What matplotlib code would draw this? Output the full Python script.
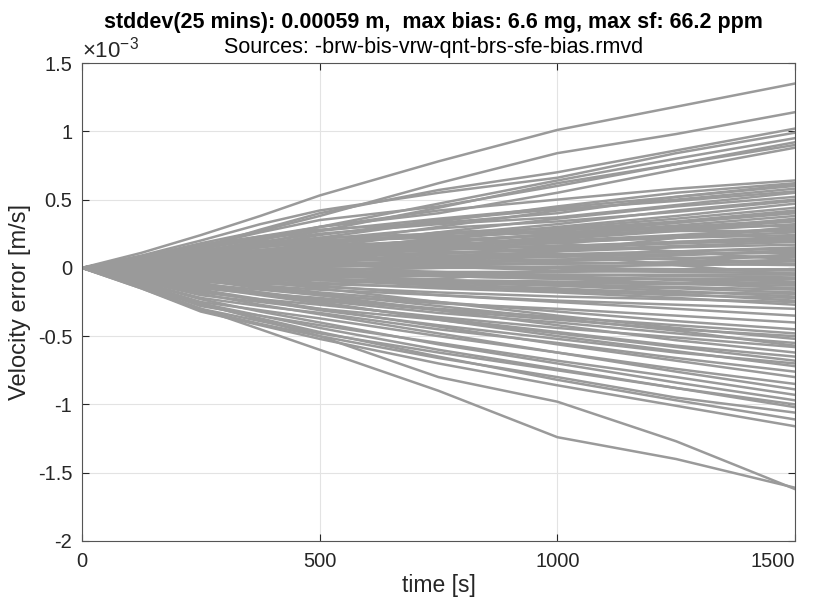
import numpy as np
import matplotlib.pyplot as plt
from matplotlib.ticker import FuncFormatter

plt.rcParams['font.family'] = ['Liberation Sans', 'DejaVu Sans']
plt.rcParams['axes.unicode_minus'] = False
plt.rcParams['mathtext.fontset'] = 'custom'
plt.rcParams['mathtext.rm'] = 'Liberation Sans'

# time knots [s]; velocity error values are in units of 1e-3 m/s
time_s = [0, 125, 250, 375, 500, 750, 1000, 1250, 1500]

upper_outliers = [
    [0, 0.11, 0.24, 0.38, 0.53, 0.78, 1.01, 1.18, 1.35],
    [0, 0.08, 0.18, 0.27, 0.38, 0.62, 0.84, 0.98, 1.14],
    [0, 0.07, 0.15, 0.28, 0.40, 0.57, 0.70, 0.86, 1.02],
    [0, 0.09, 0.20, 0.32, 0.42, 0.55, 0.66, 0.84, 0.99],
    [0, 0.05, 0.12, 0.20, 0.30, 0.47, 0.64, 0.80, 0.95],
    [0, 0.08, 0.16, 0.26, 0.35, 0.45, 0.60, 0.76, 0.92],
    [0, 0.04, 0.10, 0.18, 0.27, 0.44, 0.62, 0.76, 0.90],
    [0, 0.07, 0.14, 0.22, 0.30, 0.40, 0.55, 0.72, 0.88],
]

upper_band = [
    [0, 0.07, 0.15, 0.23, 0.30, 0.42, 0.50, 0.58, 0.64],
    [0, 0.05, 0.10, 0.16, 0.22, 0.34, 0.45, 0.55, 0.62],
    [0, 0.08, 0.17, 0.23, 0.28, 0.33, 0.40, 0.52, 0.60],
    [0, 0.03, 0.08, 0.13, 0.18, 0.30, 0.42, 0.50, 0.58],
    [0, 0.06, 0.12, 0.19, 0.25, 0.32, 0.37, 0.46, 0.55],
    [0, 0.03, 0.06, 0.10, 0.15, 0.26, 0.36, 0.45, 0.52],
    [0, 0.05, 0.11, 0.16, 0.20, 0.24, 0.32, 0.42, 0.50],
    [0, 0.02, 0.04, 0.08, 0.12, 0.22, 0.30, 0.38, 0.47],
    [0, 0.04, 0.09, 0.13, 0.17, 0.26, 0.29, 0.36, 0.44],
    [0, 0.06, 0.13, 0.18, 0.22, 0.25, 0.27, 0.33, 0.41],
    [0, 0.02, 0.05, 0.07, 0.10, 0.18, 0.25, 0.31, 0.38],
    [0, 0.03, 0.07, 0.12, 0.16, 0.20, 0.24, 0.30, 0.35],
    [0, 0.01, 0.02, 0.05, 0.08, 0.15, 0.21, 0.27, 0.32],
    [0, 0.05, 0.10, 0.12, 0.14, 0.17, 0.20, 0.24, 0.29],
    [0, 0.03, 0.06, 0.09, 0.12, 0.18, 0.19, 0.22, 0.26],
    [0, 0.01, 0.03, 0.04, 0.05, 0.10, 0.15, 0.19, 0.23],
    [0, 0.06, 0.14, 0.21, 0.27, 0.36, 0.44, 0.52, 0.61],
    [0, 0.04, 0.11, 0.17, 0.24, 0.35, 0.43, 0.49, 0.56],
    [0, 0.07, 0.12, 0.17, 0.21, 0.29, 0.34, 0.41, 0.49],
    [0, 0.02, 0.07, 0.11, 0.14, 0.21, 0.28, 0.34, 0.42],
    [0, 0.05, 0.08, 0.10, 0.13, 0.16, 0.23, 0.28, 0.34],
    [0, 0.04, 0.09, 0.15, 0.19, 0.23, 0.26, 0.29, 0.31],
]

core_band = [
    [0, 0.03, 0.07, 0.10, 0.13, 0.19, 0.25, 0.33, 0.40],
    [0, 0.02, 0.05, 0.09, 0.12, 0.16, 0.22, 0.28, 0.36],
    [0, 0.04, 0.07, 0.08, 0.10, 0.15, 0.18, 0.23, 0.28],
    [0, 0.01, 0.03, 0.06, 0.09, 0.13, 0.16, 0.19, 0.21],
    [0, 0.02, 0.03, 0.05, 0.07, 0.11, 0.13, 0.16, 0.19],
    [0, 0.00, 0.02, 0.03, 0.05, 0.07, 0.09, 0.12, 0.15],
    [0, 0.03, 0.05, 0.06, 0.06, 0.08, 0.09, 0.10, 0.12],
    [0, -0.01, 0.00, 0.02, 0.03, 0.04, 0.05, 0.07, 0.09],
    [0, 0.02, 0.02, 0.01, 0.01, 0.02, 0.03, 0.04, 0.06],
    [0, -0.02, -0.02, -0.01, -0.01, 0.00, 0.01, 0.02, 0.03],
    [0, 0.01, 0.00, -0.02, -0.03, -0.03, -0.03, -0.02, -0.01],
    [0, -0.01, -0.03, -0.04, -0.04, -0.04, -0.05, -0.05, -0.05],
    [0, 0.00, -0.02, -0.03, -0.05, -0.06, -0.08, -0.08, -0.08],
    [0, -0.03, -0.04, -0.05, -0.06, -0.09, -0.10, -0.11, -0.11],
    [0, -0.01, -0.04, -0.07, -0.09, -0.11, -0.13, -0.15, -0.18],
    [0, -0.02, -0.05, -0.08, -0.11, -0.15, -0.18, -0.22, -0.27],
    [0, 0.05, 0.09, 0.12, 0.15, 0.20, 0.24, 0.27, 0.27],
    [0, 0.04, 0.06, 0.07, 0.09, 0.11, 0.14, 0.18, 0.22],
]

mid_band = [
    [0, 0.04, 0.08, 0.11, 0.13, 0.15, 0.16, 0.18, 0.20],
    [0, 0.00, 0.01, 0.02, 0.04, 0.08, 0.12, 0.15, 0.17],
    [0, 0.03, 0.05, 0.08, 0.10, 0.09, 0.10, 0.12, 0.14],
    [0, -0.01, -0.02, 0.00, 0.02, 0.06, 0.08, 0.10, 0.11],
    [0, 0.02, 0.04, 0.05, 0.06, 0.05, 0.06, 0.07, 0.08],
    [0, 0.00, 0.00, 0.01, 0.01, 0.03, 0.03, 0.04, 0.05],
    [0, 0.03, 0.06, 0.07, 0.08, 0.06, 0.04, 0.03, 0.02],
    [0, -0.01, -0.03, -0.03, -0.02, 0.00, 0.00, -0.01, -0.01],
    [0, 0.01, 0.02, 0.03, 0.03, 0.01, -0.02, -0.03, -0.04],
    [0, -0.02, -0.05, -0.06, -0.06, -0.05, -0.05, -0.06, -0.07],
    [0, 0.00, 0.01, -0.01, -0.02, -0.04, -0.07, -0.08, -0.10],
    [0, -0.02, -0.04, -0.06, -0.08, -0.10, -0.11, -0.12, -0.13],
    [0, 0.00, -0.01, -0.03, -0.05, -0.09, -0.12, -0.14, -0.16],
    [0, -0.03, -0.07, -0.10, -0.12, -0.14, -0.16, -0.18, -0.19],
    [0, -0.01, -0.03, -0.06, -0.09, -0.13, -0.17, -0.20, -0.22],
    [0, -0.04, -0.08, -0.11, -0.14, -0.18, -0.21, -0.23, -0.25],
    [0, 0.05, 0.12, 0.16, 0.18, 0.16, 0.10, 0.02, -0.05],
    [0, -0.03, -0.06, -0.06, -0.04, 0.04, 0.12, 0.22, 0.30],
    [0, 0.04, 0.09, 0.15, 0.20, 0.22, 0.18, 0.12, 0.06],
    [0, -0.05, -0.10, -0.12, -0.12, -0.08, -0.02, 0.04, 0.10],
    [0, 0.02, 0.06, 0.09, 0.11, 0.14, 0.19, 0.22, 0.24],
    [0, -0.02, -0.03, -0.01, 0.01, 0.04, 0.06, 0.09, 0.13],
    [0, 0.03, 0.04, 0.03, 0.00, -0.03, -0.06, -0.09, -0.12],
    [0, -0.02, -0.06, -0.08, -0.09, -0.10, -0.13, -0.17, -0.21],
    [0, 0.01, 0.03, 0.04, 0.04, 0.02, 0.00, -0.02, -0.02],
    [0, -0.03, -0.05, -0.07, -0.07, -0.06, -0.08, -0.11, -0.15],
    [0, 0.06, 0.10, 0.13, 0.14, 0.12, 0.09, 0.06, 0.03],
    [0, -0.04, -0.07, -0.08, -0.08, -0.12, -0.15, -0.19, -0.24],
]

lower_band = [
    [0, -0.05, -0.10, -0.13, -0.16, -0.20, -0.24, -0.27, -0.30],
    [0, -0.02, -0.05, -0.09, -0.13, -0.20, -0.25, -0.30, -0.35],
    [0, -0.06, -0.12, -0.16, -0.20, -0.26, -0.30, -0.35, -0.40],
    [0, -0.04, -0.08, -0.13, -0.18, -0.25, -0.32, -0.39, -0.45],
    [0, -0.07, -0.15, -0.19, -0.22, -0.30, -0.36, -0.42, -0.48],
    [0, -0.03, -0.06, -0.10, -0.15, -0.25, -0.35, -0.44, -0.52],
    [0, -0.05, -0.11, -0.18, -0.24, -0.33, -0.40, -0.48, -0.55],
    [0, -0.09, -0.18, -0.23, -0.27, -0.36, -0.44, -0.51, -0.58],
    [0, -0.04, -0.09, -0.15, -0.20, -0.31, -0.42, -0.53, -0.62],
    [0, -0.07, -0.14, -0.20, -0.26, -0.37, -0.47, -0.57, -0.65],
    [0, -0.10, -0.20, -0.25, -0.30, -0.38, -0.48, -0.58, -0.68],
    [0, -0.06, -0.12, -0.19, -0.25, -0.38, -0.50, -0.61, -0.72],
    [0, -0.11, -0.22, -0.28, -0.33, -0.45, -0.55, -0.66, -0.76],
    [0, -0.08, -0.16, -0.23, -0.30, -0.43, -0.56, -0.68, -0.80],
    [0, -0.12, -0.25, -0.31, -0.37, -0.50, -0.62, -0.74, -0.85],
    [0, -0.09, -0.19, -0.27, -0.34, -0.48, -0.62, -0.76, -0.89],
    [0, -0.13, -0.28, -0.35, -0.42, -0.55, -0.68, -0.80, -0.93],
    [0, -0.11, -0.23, -0.32, -0.40, -0.56, -0.70, -0.84, -0.97],
    [0, -0.14, -0.30, -0.39, -0.48, -0.62, -0.75, -0.88, -1.00],
    [0, -0.12, -0.26, -0.35, -0.44, -0.60, -0.74, -0.88, -1.02],
    [0, -0.15, -0.31, -0.41, -0.50, -0.66, -0.80, -0.95, -1.06],
    [0, -0.13, -0.27, -0.37, -0.47, -0.65, -0.82, -0.97, -1.11],
    [0, -0.15, -0.32, -0.42, -0.52, -0.70, -0.86, -1.01, -1.16],
    [0, -0.06, -0.13, -0.18, -0.23, -0.31, -0.38, -0.45, -0.50],
    [0, -0.03, -0.09, -0.14, -0.19, -0.28, -0.37, -0.46, -0.57],
    [0, -0.08, -0.17, -0.24, -0.31, -0.42, -0.52, -0.62, -0.70],
]

lower_outliers = [
    [0, -0.12, -0.26, -0.38, -0.50, -0.80, -0.98, -1.27, -1.62],
    [0, -0.14, -0.30, -0.45, -0.60, -0.90, -1.24, -1.40, -1.61],
]

fig = plt.figure(figsize=(8.15, 6.06), dpi=100)
ax = fig.add_axes([0.1006, 0.1073, 0.8749, 0.7887])

for group in [upper_outliers, upper_band, core_band, mid_band, lower_band, lower_outliers]:
    for vals in group:
        ax.plot(time_s, vals, color='#9a9a9a', lw=1.8, solid_joinstyle='round')

ax.set_xlim(0, 1500)
ax.set_ylim(-2, 1.5)
ax.set_xticks([0, 500, 1000, 1500])
ax.set_yticks(np.arange(-2, 1.51, 0.5))
ax.yaxis.set_major_formatter(FuncFormatter(lambda v, p: f'{v:g}'))
ax.grid(True, color='#e3e3e3', lw=0.8)
ax.set_axisbelow(True)
ax.tick_params(direction='in', length=5, labelsize=14.5, colors='#262626',
               top=True, right=True, width=0.8)
ax.tick_params(axis='x', pad=8)
ax.tick_params(axis='y', pad=7)
for s in ax.spines.values():
    s.set_color('#555555')
    s.set_linewidth(0.8)

# keep the last x tick label inside the figure
fig.canvas.draw()
ax.get_xticklabels()[-1].set_horizontalalignment('right')
ax.get_xticklabels()[-1].set_x(1500)

ax.set_xlabel('time [s]', fontsize=16.5, color='#262626', labelpad=2)
ax.set_ylabel('Velocity error [m/s]', fontsize=17, color='#262626', labelpad=5)
ax.text(0.0, 1.002, r'$\times10^{-3}$', transform=ax.transAxes, fontsize=16,
        ha='left', va='bottom', color='#262626')

fig.text(0.532, 0.963, 'stddev(25 mins): 0.00059 m,  max bias: 6.6 mg, max sf: 66.2 ppm',
         ha='center', va='center', fontsize=15.5, fontweight='bold', color='black')
fig.text(0.532, 0.921, 'Sources: -brw-bis-vrw-qnt-brs-sfe-bias.rmvd',
         ha='center', va='center', fontsize=15.5, color='black')

fig.savefig('out.png', dpi=100)
